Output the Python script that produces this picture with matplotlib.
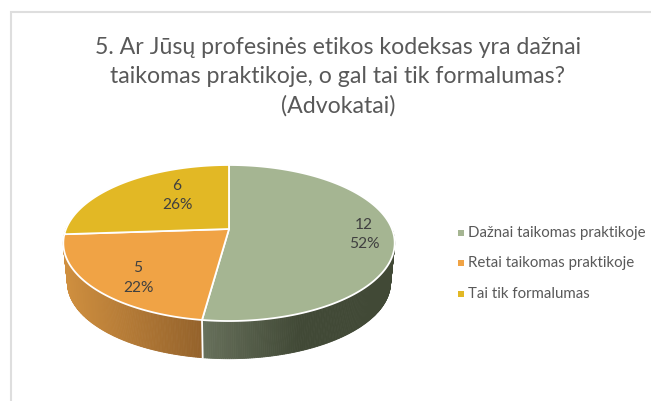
import numpy as np
import matplotlib
matplotlib.use('Agg')
import matplotlib.pyplot as plt
from matplotlib.patches import Rectangle

title = "5. Ar Jūsų profesinės etikos kodeksas yra dažnai\ntaikomas praktikoje, o gal tai tik formalumas?\n(Advokatai)"
categories = ['Dažnai taikomas praktikoje', 'Retai taikomas praktikoje', 'Tai tik formalumas']
counts = [12, 5, 6]
colors = ['#A5B592', '#F0A345', '#E2B825']

# pie geometry in pixels, the top is a circle seen in perspective
CX, CY = 229, 229
RX, RY, K = 163, 75.5, -0.1795
DEPTH, SHRINK = 40, 0.975


def rim(deg, r=1.0, shrink=1.0, drop=0.0):
    t = np.radians(deg)
    u, v = r * np.sin(t), -r * np.cos(t)
    d = 1 + K * v
    return CX + shrink * RX * u / d, CY + drop + shrink * RY * v / d


plt.rcParams['font.family'] = ['Lato', 'DejaVu Sans']
fig = plt.figure(figsize=(6.51, 4.01), dpi=100)
ax = fig.add_axes([0, 0, 1, 1])
ax.set_xlim(0, 651)
ax.set_ylim(401, 0)
ax.axis('off')

# chart frame runs off the picture
ax.add_patch(Rectangle((11, 12), 700, 450, fc='white', ec='#DEDEDE', lw=1.5))

ax.text(338, 77, title, ha='center', va='center', fontsize=16.7, color='#595959', linespacing=1.46)

edges = np.cumsum([0] + counts) / sum(counts) * 360

# side wall, shaded slice by slice from left to right
side = [(('#67705B', '#414936'), 90, edges[1]), (('#CF8F3F', '#94622B'), edges[1], 272)]
for (c0, c1), a0, a1 in side:
    angs = np.linspace(a0, a1, 160)
    rgb0, rgb1 = np.array(matplotlib.colors.to_rgb(c0)), np.array(matplotlib.colors.to_rgb(c1))
    for a, b in zip(angs[:-1], angs[1:]):
        tx0, ty0 = rim(a)
        tx1, ty1 = rim(b)
        bx0, by0 = rim(a, shrink=SHRINK, drop=DEPTH)
        bx1, by1 = rim(b, shrink=SHRINK, drop=DEPTH)
        if a0 < 180:
            f = np.clip((203 - tx0) / (203 - 300), 0, 1)
        else:
            f = np.clip((tx0 - 64) / (203 - 64), 0, 1)
        col = rgb0 + (rgb1 - rgb0) * f
        ax.fill([tx0, tx1, bx1, bx0], [ty0, ty1, by1, by0], color=col, lw=0.6)

# white seam on the wall between the two visible slices
x0, y0 = rim(edges[1])
x1, y1 = rim(edges[1], shrink=SHRINK, drop=DEPTH)
ax.plot([x0, x1], [y0, y1], color='white', lw=1.3)

# top face
for i, col in enumerate(colors):
    angs = np.linspace(edges[i], edges[i + 1], 200)
    xs, ys = rim(angs)
    ax.fill(np.r_[CX, xs], np.r_[CY, ys], fc=col, ec='white', lw=1.3, joinstyle='round')

label_xy = [(364, 234.5), (138, 278), (177, 195.5)]
for n, (lx, ly) in zip(counts, label_xy):
    ax.text(lx, ly, f"{n}\n{round(n / sum(counts) * 100)}%", ha='center', va='center',
            fontsize=11.2, color='#404040', linespacing=1.47)

legend_y = [233, 263, 294]
for name, col, ly in zip(categories, colors, legend_y):
    ax.add_patch(Rectangle((457.5, ly - 3), 6, 6, fc=col, ec='none'))
    ax.text(468, ly, name, ha='left', va='center', fontsize=10.8, color='#595959')

fig.savefig('out.png', dpi=100)
